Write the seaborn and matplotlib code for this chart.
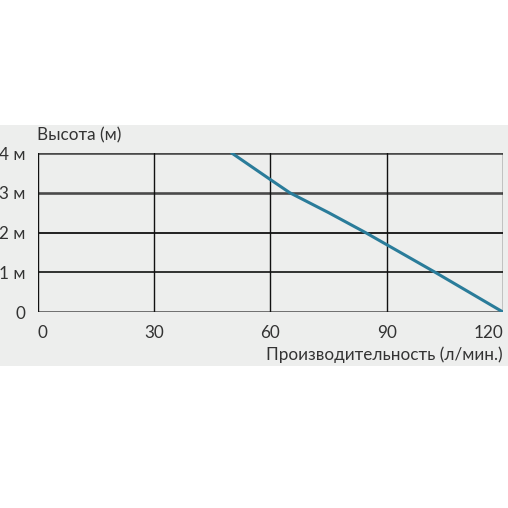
import numpy as np
import pandas as pd
import matplotlib
matplotlib.use("Agg")
import matplotlib.pyplot as plt
import seaborn as sns
from matplotlib.patches import Rectangle

sns.set_style("white")
plt.rcParams['font.family'] = ['Lato', 'DejaVu Sans']

# pump curve
flow = [50, 60, 65, 75, 84.5, 102.5, 120]
head = [4.0, 3.33, 3.0, 2.5, 2.0, 1.0, 0.0]
x_ticks = [0, 30, 60, 90, 120]
y_ticks = [0, 1, 2, 3, 4]
y_labels = ["0", "1 м", "2 м", "3 м", "4 м"]

df = pd.DataFrame({"flow": flow, "head": head})

bg = "#edeeed"
fs = 12.3
fig = plt.figure(figsize=(5.08, 5.08), dpi=100)
fig.patch.set_facecolor("white")
fig.add_artist(Rectangle((0, 0.2795), 1, 0.4745, transform=fig.transFigure,
                         facecolor=bg, edgecolor="none", zorder=-10))

ax = fig.add_axes([0.0748, 0.3858, 0.9152, 0.313])
ax.set_zorder(1)
ax.set_facecolor(bg)

sns.lineplot(data=df, x="flow", y="head", sort=False, color="#2a7c9a", linewidth=2.2, ax=ax, zorder=5)

ax.set_xlim(0, 120)
ax.set_ylim(0, 4)
ax.set_xticks(x_ticks)
ax.set_yticks(y_ticks)
hstyle = {0: ("#4a4a4a", 1.8), 1: ("#111111", 1.2), 2: ("#111111", 1.3),
          3: ("#4a4a4a", 1.9), 4: ("#4a4a4a", 1.9)}
for y in y_ticks:
    c, w = hstyle[y]
    ax.axhline(y, color=c, linewidth=w, zorder=2)
for x in x_ticks:
    ax.axvline(x, color="#111111", linewidth=1.0, zorder=3)
for s in ax.spines.values():
    s.set_visible(False)

ax.set_yticklabels(y_labels, fontsize=fs, color="#333333")
ax.set_xticklabels([str(v) for v in x_ticks], fontsize=fs, color="#333333")
ax.tick_params(axis="y", length=0, pad=9)
ax.tick_params(axis="x", length=0, pad=9)
xl = ax.get_xticklabels()
xl[0].set_ha("left")
xl[-1].set_ha("right")

ax.set_xlabel("")
ax.set_ylabel("")
ax.text(1.0, -0.27, "Производительность (л/мин.)", transform=ax.transAxes,
        ha="right", va="center", fontsize=fs, color="#333333")
ax.text(-0.002, 1.11, "Высота (м)", transform=ax.transAxes,
        ha="left", va="center", fontsize=fs, color="#333333")

fig.savefig("out.png", dpi=100, facecolor="white")
